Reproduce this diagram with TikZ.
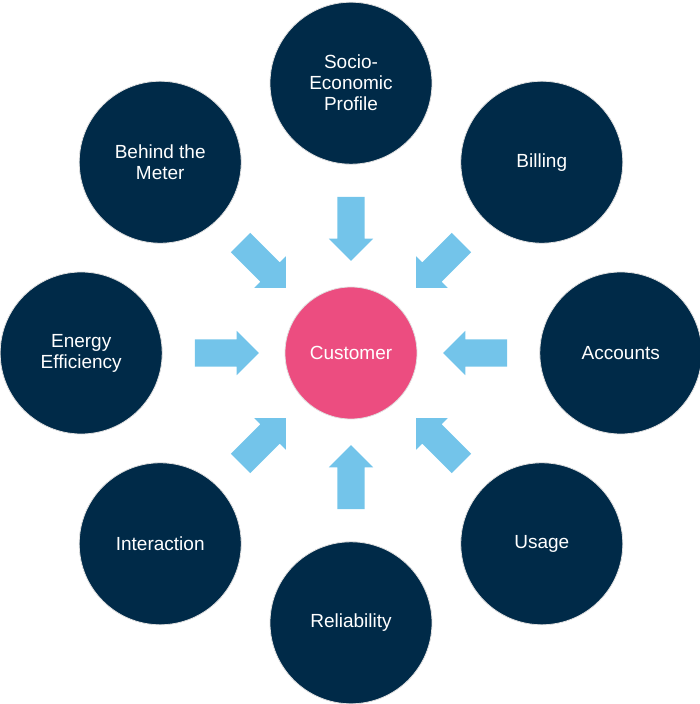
\documentclass[tikz,border=0pt]{standalone}
\usepackage{fontspec}
\setmainfont{Liberation Sans}
\usetikzlibrary{positioning,shapes.arrows}
\definecolor{navy}{RGB}{0,42,72}
\definecolor{rosepink}{RGB}{236,77,128}
\definecolor{skyblue}{RGB}{115,196,234}
\tikzset{hub/.style={
    circle,minimum size=132pt,inner sep=0pt,
    fill=rosepink,draw=black!12,line width=0.8pt,
    text=white,font=\fontsize{19}{22}\selectfont}}
\tikzset{topic/.style={
    circle,minimum size=162pt,inner sep=0pt,align=center,
    fill=navy,draw=black!12,line width=0.8pt,
    text=white,font=\fontsize{19}{21}\selectfont}}
\tikzset{inarrow/.style={
    single arrow,draw=none,fill=skyblue,
    inner xsep=0pt,inner ysep=13.5pt,
    minimum height=64pt,
    single arrow head extend=8.5pt,single arrow tip angle=90,
    sloped,allow upside down,pos=0.47}}

\begin{document}
\begin{tikzpicture}[node distance=122pt]
  \useasboundingbox (-351pt,-351pt) rectangle (348pt,353pt);

  \node (customer)    [hub]                             {Customer};
  \node (profile)     [topic,above=of customer]         {Socio-\\Economic\\Profile};
  \node (billing)     [topic,above right=of customer]   {Billing};
  \node (accounts)    [topic,right=of customer]         {Accounts};
  \node (usage)       [topic,below right=of customer]   {Usage};
  \node (reliability) [topic,below=of customer]         {Reliability};
  \node (interaction) [topic,below left=of customer]    {Interaction};
  \node (efficiency)  [topic,left=of customer]          {Energy\\Efficiency};
  \node (meter)       [topic,above left=of customer]    {Behind the\\Meter};

  % block arrows pointing in to the customer
  \path (profile)     -- node (a1) [inarrow] {} (customer);
  \path (billing)     -- node (a2) [inarrow] {} (customer);
  \path (accounts)    -- node (a3) [inarrow] {} (customer);
  \path (usage)       -- node (a4) [inarrow] {} (customer);
  \path (reliability) -- node (a5) [inarrow] {} (customer);
  \path (interaction) -- node (a6) [inarrow] {} (customer);
  \path (efficiency)  -- node (a7) [inarrow] {} (customer);
  \path (meter)       -- node (a8) [inarrow] {} (customer);

\end{tikzpicture}
\end{document}
